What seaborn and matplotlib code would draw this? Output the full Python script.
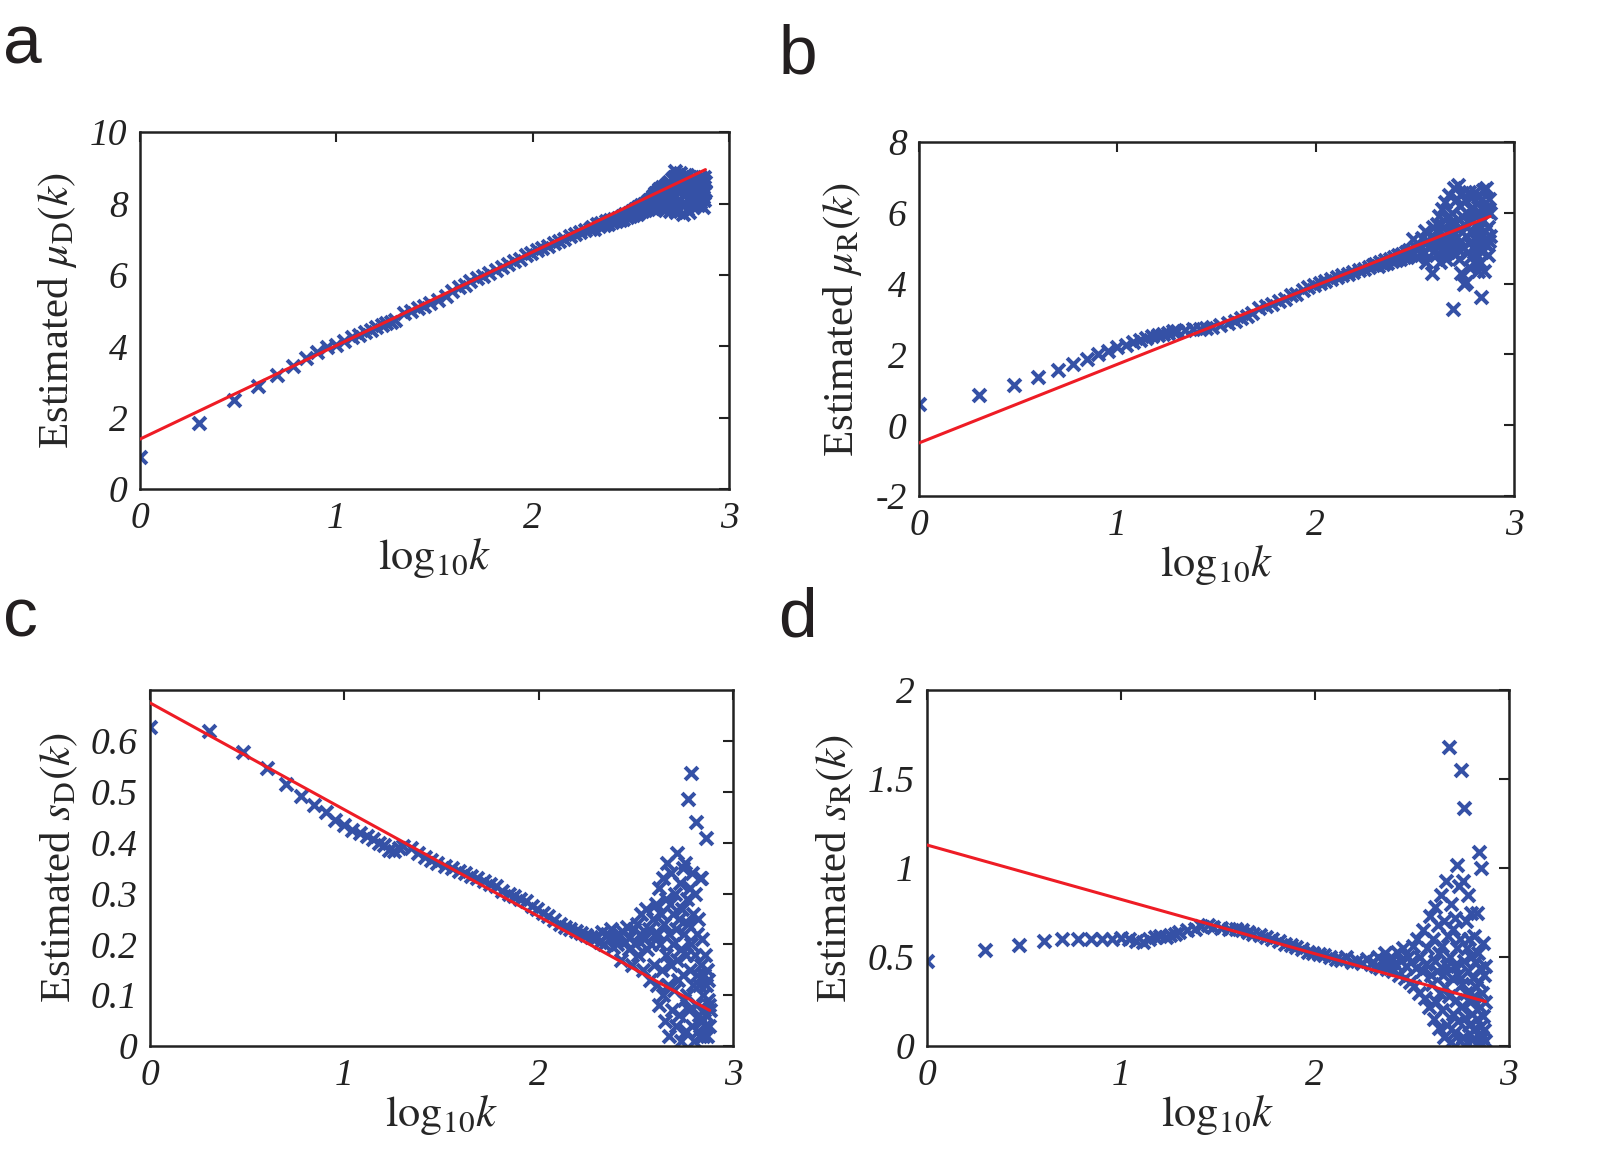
import numpy as np
import pandas as pd
import seaborn as sns
import matplotlib
matplotlib.use("Agg")
import matplotlib.pyplot as plt

# degree k (x axis is log10 k), shared by the four panels
k_vals = [1, 2, 3, 4, 5, 6, 7, 8, 9, 10, 11, 12, 13, 14, 15, 16, 17, 18, 19, 20,
          22, 24, 26, 28, 30, 33, 36, 39, 42, 45, 48, 52, 56, 60, 65, 70, 75, 80, 86, 92,
          98, 105, 112, 120, 128, 136, 145, 155, 165, 175, 185, 195,
          200, 206, 212, 218, 224, 230, 236, 242, 248, 254,
          260, 266, 272, 278, 284, 290, 296, 302, 308, 314,
          320, 326, 332, 338, 344, 350, 356, 362, 368, 374,
          380, 386, 392, 398,
          402, 406, 410, 414, 418, 422, 426, 430, 434, 438,
          442, 446, 450, 454, 458, 462, 466, 470, 474, 478,
          482, 486, 490, 494, 498, 502, 506, 510, 514, 518,
          522, 526, 530, 534, 538, 542, 546, 550, 554, 558,
          562, 566, 570, 574, 578, 582, 586, 590, 594, 598,
          602, 606, 610, 614, 618, 622, 626, 630, 634, 638,
          642, 646, 650, 654, 658, 662, 666, 670, 674, 678,
          682, 686, 690, 694, 698, 702, 706, 710, 714, 718,
          722, 726, 730, 734, 738, 742, 746, 750, 754, 758]

mu_D = [0.9, 1.85, 2.5, 2.9, 3.2, 3.45, 3.68, 3.85, 3.97, 4.05, 4.16, 4.25, 4.33, 4.41, 4.47, 4.53, 4.6, 4.64, 4.69, 4.74,
        4.93, 4.98, 5.08, 5.12, 5.2, 5.3, 5.42, 5.55, 5.66, 5.72, 5.82, 5.9, 5.98, 6.06, 6.15, 6.22, 6.3, 6.38, 6.45, 6.55,
        6.62, 6.7, 6.75, 6.82, 6.9, 6.96, 7.02, 7.1, 7.14, 7.2, 7.26, 7.3,
        7.35, 7.3, 7.42, 7.36, 7.45, 7.4, 7.5, 7.44, 7.55, 7.48,
        7.58, 7.5, 7.6, 7.55, 7.66, 7.58, 7.7, 7.62, 7.74, 7.66,
        7.78, 7.68, 7.84, 7.72, 7.9, 7.75, 7.95, 7.8, 8.0, 7.83,
        8.05, 7.86, 8.1, 7.9,
        8.12, 7.92, 8.2, 7.85, 8.3, 8.0, 8.15, 7.9, 8.35, 8.05,
        8.4, 7.95, 8.25, 7.88, 8.45, 8.1, 8.3, 7.82, 8.5, 8.0,
        8.55, 8.15, 7.9, 8.6, 8.3, 7.8, 8.45, 8.1, 8.7, 7.95,
        8.75, 8.2, 8.9, 7.75, 8.5, 8.05, 8.8, 8.35, 7.85, 8.6,
        8.85, 8.1, 8.45, 7.95, 8.7, 8.25, 7.7, 8.55, 8.8, 8.0,
        8.65, 8.3, 7.85, 8.8, 8.15, 8.5, 7.75, 8.7, 8.35, 8.05,
        8.6, 8.2, 8.75, 7.9, 8.45, 8.1, 8.65, 8.3, 8.0, 8.55,
        8.7, 8.25, 8.5, 7.95, 8.6, 8.35, 8.15, 8.75, 8.05, 8.4,
        8.55, 8.2, 8.65, 7.9, 8.45, 8.3, 8.75, 8.1, 8.6, 8.35]

mu_R = [0.6, 0.85, 1.13, 1.37, 1.55, 1.72, 1.87, 2.0, 2.1, 2.2, 2.28, 2.34, 2.4, 2.46, 2.51, 2.55, 2.59, 2.62, 2.65, 2.67,
        2.7, 2.72, 2.71, 2.74, 2.78, 2.82, 2.88, 2.95, 3.02, 3.1, 3.16, 3.3, 3.36, 3.42, 3.52, 3.58, 3.68, 3.72, 3.82, 3.9,
        3.96, 4.02, 4.08, 4.12, 4.18, 4.24, 4.28, 4.34, 4.38, 4.42, 4.48, 4.52,
        4.55, 4.5, 4.62, 4.56, 4.66, 4.58, 4.7, 4.64, 4.75, 4.66,
        4.8, 4.7, 4.85, 4.74, 4.9, 4.78, 4.96, 4.82, 5.25, 4.86,
        5.0, 4.75, 5.1, 4.85, 5.3, 4.9, 5.5, 4.6, 5.2, 5.0,
        5.35, 4.3, 5.6, 4.95,
        5.3, 4.8, 5.7, 5.05, 5.9, 4.6, 5.5, 5.2, 6.1, 4.9,
        5.6, 5.0, 6.3, 4.7, 5.45, 5.85, 4.9, 6.5, 5.25, 5.7,
        5.1, 6.0, 3.28, 5.5, 6.7, 4.85, 5.75, 5.3, 6.4, 5.0,
        6.8, 5.55, 4.7, 6.2, 5.2, 4.3, 5.9, 6.55, 5.0, 5.65,
        4.0, 6.35, 5.35, 4.05, 6.0, 5.6, 4.9, 6.6, 5.15, 4.45,
        5.8, 6.1, 4.75, 5.45, 6.45, 5.0, 4.6, 5.95, 5.3, 6.6,
        4.85, 5.7, 6.25, 5.2, 4.35, 6.45, 5.55, 5.0, 6.0, 4.6,
        3.63, 5.4, 6.4, 4.9, 5.8, 6.65, 5.15, 4.35, 6.1, 5.5,
        5.3, 6.7, 5.1, 6.05, 4.8, 5.6, 6.4, 5.2, 6.0, 5.35]

s_D = [0.627, 0.62, 0.578, 0.546, 0.516, 0.492, 0.475, 0.46, 0.445, 0.435, 0.425, 0.42, 0.414, 0.408, 0.40, 0.395, 0.386, 0.383, 0.39, 0.393,
       0.39, 0.38, 0.372, 0.365, 0.36, 0.355, 0.35, 0.345, 0.34, 0.335, 0.33, 0.325, 0.318, 0.315, 0.305, 0.3, 0.295, 0.29, 0.285, 0.275,
       0.27, 0.262, 0.255, 0.248, 0.24, 0.235, 0.23, 0.226, 0.222, 0.218, 0.215, 0.213,
       0.215, 0.205, 0.225, 0.2, 0.22, 0.21, 0.23, 0.195, 0.215, 0.2,
       0.22, 0.17, 0.225, 0.205, 0.235, 0.19, 0.215, 0.16, 0.23, 0.2,
       0.24, 0.18, 0.22, 0.26, 0.15, 0.21, 0.27, 0.19, 0.23, 0.13,
       0.2, 0.25, 0.16, 0.22,
       0.28, 0.12, 0.22, 0.31, 0.08, 0.2, 0.26, 0.15, 0.33, 0.1,
       0.24, 0.05, 0.29, 0.18, 0.36, 0.12, 0.22, 0.02, 0.28, 0.16,
       0.34, 0.07, 0.2, 0.26, 0.11, 0.3, 0.04, 0.23, 0.17, 0.38,
       0.13, 0.25, 0.06, 0.32, 0.19, 0.01, 0.27, 0.14, 0.35, 0.09,
       0.22, 0.36, 0.03, 0.18, 0.29, 0.1, 0.486, 0.24, 0.07, 0.31,
       0.15, 0.538, 0.2, 0.04, 0.34, 0.12, 0.26, 0.01, 0.18, 0.3,
       0.44, 0.08, 0.22, 0.14, 0.03, 0.25, 0.12, 0.06, 0.33, 0.02,
       0.33, 0.16, 0.05, 0.21, 0.1, 0.02, 0.14, 0.07, 0.18, 0.04,
       0.12, 0.41, 0.06, 0.15, 0.02, 0.09, 0.13, 0.04, 0.08, 0.07]

s_R = [0.48, 0.54, 0.566, 0.588, 0.60, 0.60, 0.60, 0.60, 0.60, 0.605, 0.6, 0.59, 0.585, 0.6, 0.61, 0.62, 0.615, 0.625, 0.63, 0.64,
       0.65, 0.66, 0.675, 0.68, 0.67, 0.665, 0.66, 0.655, 0.65, 0.64, 0.63, 0.625, 0.61, 0.6, 0.59, 0.575, 0.565, 0.555, 0.545, 0.53,
       0.525, 0.515, 0.51, 0.5, 0.49, 0.485, 0.5, 0.47, 0.48, 0.465, 0.49, 0.46,
       0.47, 0.45, 0.5, 0.44, 0.48, 0.52, 0.43, 0.47, 0.5, 0.42,
       0.46, 0.53, 0.4, 0.48, 0.55, 0.38, 0.45, 0.5, 0.36, 0.47,
       0.56, 0.34, 0.44, 0.6, 0.3, 0.5, 0.42, 0.65, 0.27, 0.46,
       0.55, 0.22, 0.73, 0.4,
       0.35, 0.6, 0.15, 0.48, 0.78, 0.25, 0.42, 0.68, 0.1, 0.52,
       0.3, 0.85, 0.2, 0.56, 0.4, 0.05, 0.7, 0.33, 0.93, 0.45,
       0.12, 0.62, 0.28, 1.68, 0.5, 0.02, 0.8, 0.38, 0.18, 0.66,
       0.45, 0.08, 0.72, 0.26, 1.02, 0.55, 0.14, 0.4, 0.9, 0.03,
       0.6, 0.22, 1.55, 0.35, 0.05, 0.93, 0.48, 1.34, 0.16, 0.7,
       0.3, 0.55, 0.02, 0.42, 0.85, 0.12, 0.6, 0.25, 0.07, 0.5,
       0.75, 0.18, 0.38, 0.04, 0.62, 0.28, 0.1, 0.47, 0.01, 0.33,
       0.75, 0.15, 0.52, 0.06, 0.36, 1.09, 0.22, 0.02, 0.44, 0.11,
       1.0, 0.3, 0.05, 0.58, 0.17, 0.4, 0.09, 0.25, 0.45, 0.03]

# fitted lines, value at log10 k = 0 and at the last k
fit_x = [0, 2.88]
fit_mu_D = [1.4, 8.95]
fit_mu_R = [-0.5, 5.9]
fit_s_D = [0.675, 0.07]
fit_s_R = [1.13, 0.25]

for name, arr in [("mu_D", mu_D), ("mu_R", mu_R), ("s_D", s_D), ("s_R", s_R)]:
    assert len(arr) == len(k_vals), (name, len(arr), len(k_vals))

xticks = [0, 1, 2, 3]
xticklabels = ["0", "1", "2", "3"]
yticks_a = [0, 2, 4, 6, 8, 10]
yticklabels_a = ["0", "2", "4", "6", "8", "10"]
yticks_b = [-2, 0, 2, 4, 6, 8]
yticklabels_b = ["-2", "0", "2", "4", "6", "8"]
yticks_c = [0, 0.1, 0.2, 0.3, 0.4, 0.5, 0.6]
yticklabels_c = ["0", "0.1", "0.2", "0.3", "0.4", "0.5", "0.6"]
yticks_d = [0, 0.5, 1, 1.5, 2]
yticklabels_d = ["0", "0.5", "1", "1.5", "2"]

sns.set_style("white")
plt.rcParams["font.family"] = ["Liberation Serif", "DejaVu Serif"]
plt.rcParams["mathtext.fontset"] = "stix"

blue = "#3551a6"
red = "#ee1c25"
logk = np.log10(np.array(k_vals, dtype=float))

fig = plt.figure(figsize=(15.98, 11.59), dpi=100)

panels = [
    # rect, y data, fit, ylim, yticks, labels, ylabel, letter, letter pos
    ([0.0876, 0.578, 0.3686, 0.308], mu_D, fit_mu_D, (0, 10), yticks_a, yticklabels_a,
     r"Estimated $\mu_{\mathrm{D}}(k)$", "a", (0.002, 0.945)),
    ([0.5751, 0.572, 0.3723, 0.3054], mu_R, fit_mu_R, (-2, 8), yticks_b, yticklabels_b,
     r"Estimated $\mu_{\mathrm{R}}(k)$", "b", (0.487, 0.937)),
    ([0.0939, 0.0975, 0.3648, 0.307], s_D, fit_s_D, (0, 0.7), yticks_c, yticklabels_c,
     r"Estimated $s_{\mathrm{D}}(k)$", "c", (0.002, 0.451)),
    ([0.580, 0.0975, 0.3642, 0.307], s_R, fit_s_R, (0, 2), yticks_d, yticklabels_d,
     r"Estimated $s_{\mathrm{R}}(k)$", "d", (0.487, 0.451)),
]

for rect, yv, fit, ylim, yt, ytl, ylab, letter, lpos in panels:
    ax = fig.add_axes(rect)
    df = pd.DataFrame({"x": logk, "y": yv})
    sns.scatterplot(data=df, x="x", y="y", ax=ax, marker="x", color=blue,
                    s=85, linewidth=2.9, legend=False, zorder=2)
    sns.lineplot(x=fit_x, y=fit, ax=ax, color=red, linewidth=2.2, zorder=3)
    ax.set_xlim(0, 3)
    ax.set_ylim(*ylim)
    ax.set_xticks(xticks)
    ax.set_xticklabels(xticklabels, fontstyle="italic")
    ax.set_yticks(yt)
    ax.set_yticklabels(ytl, fontstyle="italic")
    ax.tick_params(direction="in", top=True, right=True, length=7, width=1.5,
                   labelsize=27, pad=9, colors="#222222")
    for sp in ax.spines.values():
        sp.set_linewidth(1.8)
        sp.set_color("#222222")
    ax.set_xlabel(r"$\mathrm{log}_{10}k$", fontsize=32, labelpad=0)
    ax.set_ylabel(ylab, fontsize=31, labelpad=8)
    fig.text(lpos[0], lpos[1], letter, fontsize=50, family="Liberation Sans",
             va="baseline", ha="left", color="#231f20")

fig.savefig("out.png", dpi=100)
